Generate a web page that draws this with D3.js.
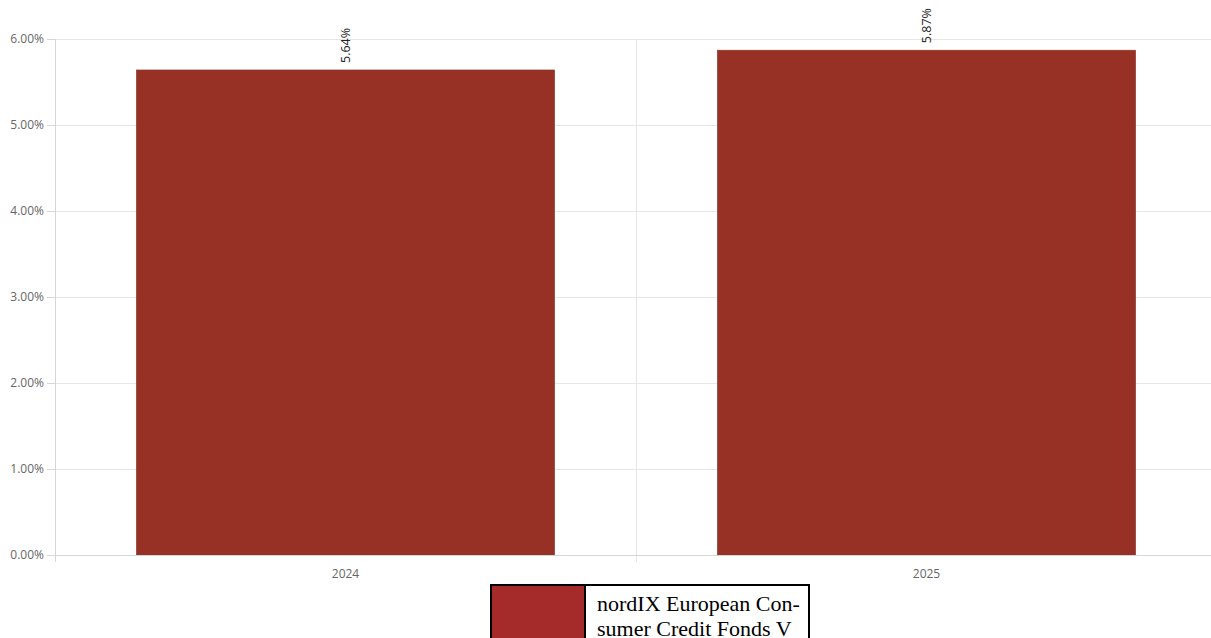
<!DOCTYPE html>
<html>
<head>
<meta charset="utf-8">
<script src="https://cdn.jsdelivr.net/npm/d3@7"></script>
<style>
  html, body { margin: 0; padding: 0; background: #fff; }
  svg { display: block; }
</style>
</head>
<body>
<svg id="chart" width="1211" height="638"></svg>
<script>
const categories = ["2024", "2025"];
const values = [5.64, 5.87];
const yTicks = [0, 1, 2, 3, 4, 5, 6];
const seriesName = ["nordIX European Con-", "sumer Credit Fonds V"];

(function () {
const svg = d3.select("#chart");
const W = 1211;
const mLeft = 55, mTop = 39, mBottom = 555;

const x = d3.scaleBand().domain(categories).range([mLeft, 1217]).padding(0);
const y = d3.scaleLinear().domain([0, 6]).range([mBottom, mTop]);
const barFrac = 0.72;

svg.append("g").selectAll("line").data(yTicks).join("line")
  .attr("x1", mLeft).attr("x2", W)
  .attr("y1", d => y(d) + 0.5).attr("y2", d => y(d) + 0.5)
  .attr("stroke", "#e6e6e6").attr("stroke-width", 1);

svg.append("g").selectAll("line").data(categories.slice(1)).join("line")
  .attr("x1", d => x(d) + 0.5).attr("x2", d => x(d) + 0.5)
  .attr("y1", mTop).attr("y2", mBottom + 7)
  .attr("stroke", "#e6e6e6").attr("stroke-width", 1);

svg.append("line").attr("x1", mLeft + 0.5).attr("x2", mLeft + 0.5)
  .attr("y1", mTop).attr("y2", mBottom + 7)
  .attr("stroke", "#d6d6d6");

svg.append("g").selectAll("line").data(yTicks).join("line")
  .attr("x1", mLeft - 8).attr("x2", mLeft)
  .attr("y1", d => y(d) + 0.5).attr("y2", d => y(d) + 0.5)
  .attr("stroke", "#d6d6d6");

svg.append("g").selectAll("text").data(yTicks).join("text")
  .attr("x", mLeft - 11).attr("y", d => y(d) + 4)
  .attr("text-anchor", "end")
  .attr("font-family", "'Open Sans', sans-serif").attr("font-size", 12)
  .attr("fill", "#666")
  .text(d => d.toFixed(2) + "%");

svg.append("g").selectAll("rect").data(values).join("rect")
  .attr("x", (d, i) => x(categories[i]) + x.bandwidth() * (1 - barFrac) / 2)
  .attr("width", x.bandwidth() * barFrac)
  .attr("y", d => y(d))
  .attr("height", d => mBottom - y(d))
  .attr("fill", "#983125")
  .attr("stroke", "#8a3a2e").attr("stroke-width", 0.6);

svg.append("line").attr("x1", mLeft).attr("x2", W)
  .attr("y1", mBottom + 0.5).attr("y2", mBottom + 0.5)
  .attr("stroke", "#d6d6d6");

svg.append("g").selectAll("text").data(categories).join("text")
  .attr("x", d => x(d) + x.bandwidth() / 2)
  .attr("y", mBottom + 23)
  .attr("text-anchor", "middle")
  .attr("font-family", "'Open Sans', sans-serif").attr("font-size", 12)
  .attr("fill", "#666")
  .text(d => d);

svg.append("g").selectAll("text").data(values).join("text")
  .attr("transform", (d, i) => `translate(${x(categories[i]) + x.bandwidth() / 2 + 4},${y(d) - 7}) rotate(-90)`)
  .attr("text-anchor", "start")
  .attr("font-family", "'Open Sans', sans-serif").attr("font-size", 12.5)
  .attr("fill", "#222")
  .text(d => d.toFixed(2) + "%");

const lg = svg.append("g");
lg.append("rect").attr("x", 491).attr("y", 585).attr("width", 318).attr("height", 70)
  .attr("fill", "#fff").attr("stroke", "#000").attr("stroke-width", 2);
lg.append("rect").attr("x", 491).attr("y", 585).attr("width", 94).attr("height", 70)
  .attr("fill", "#a52a2a").attr("stroke", "#000").attr("stroke-width", 2);
lg.append("g").selectAll("text").data(seriesName).join("text")
  .attr("x", 597).attr("y", (d, i) => 611 + i * 25)
  .attr("font-family", "'Liberation Serif', 'Times New Roman', serif")
  .attr("font-size", 22).attr("fill", "#000")
  .text(d => d);
})();
</script>
</body>
</html>
